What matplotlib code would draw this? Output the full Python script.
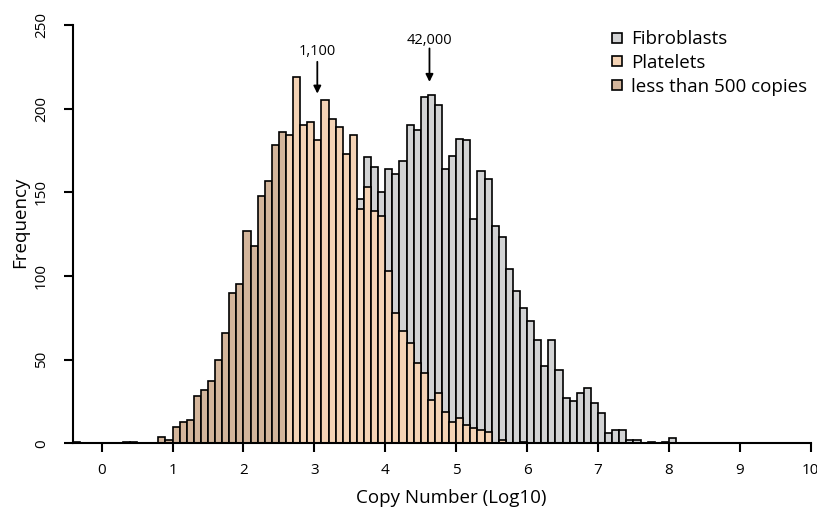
import numpy as np
import matplotlib.pyplot as plt
from matplotlib.lines import Line2D

plt.rcParams["font.family"] = ["Open Sans", "DejaVu Sans"]

# histogram bins: width 0.1, first bin starts at -0.4 (log10 copy number)
bin_start = -0.4
bin_width = 0.1

# counts per bin, from -0.4 up to 8.0
fibroblasts = [
    0, 0, 0, 0,
    0, 0, 0, 0, 0, 0, 0, 0, 0, 0,
    0, 0, 0, 0, 0, 1, 2, 3, 4, 6,
    8, 10, 14, 18, 25, 31, 40, 48, 57, 66,
    78, 86, 98, 110, 121, 135, 146, 171, 165, 150,
    164, 161, 169, 190, 187, 207, 208, 202, 164, 172,
    182, 181, 134, 163, 158, 130, 123, 104, 91, 81,
    73, 62, 46, 62, 44, 27, 25, 30, 33, 24,
    18, 6, 8, 8, 2, 2, 0, 1, 0, 1,
    3,
]
platelets = [
    1, 0, 0, 0,
    0, 0, 0, 1, 1, 0, 0, 0, 4, 2,
    10, 13, 14, 28, 32, 37, 50, 66, 90, 95,
    127, 118, 148, 157, 178, 186, 184, 219, 190, 192,
    181, 205, 194, 189, 173, 184, 140, 153, 139, 136,
    103, 78, 67, 60, 48, 42, 26, 30, 19, 13,
    15, 11, 9, 8, 7, 0, 2, 0, 0, 1,
    0, 0, 0, 0, 0, 0, 0, 0, 0, 0,
    0, 0, 0, 0, 0, 0, 0, 0, 0, 0,
    0,
]
cutoff = np.log10(500)  # bins below this are "less than 500 copies"

# arrows for the modes
annotations = [("1,100", np.log10(1100)), ("42,000", np.log10(42000))]
arrow_tips = [209, 216]
arrow_tails = [228, 236]
label_y = [234, 241]

col_fib = "#d2d3d4"
col_plt = "#f4d3b5"
col_low = "#d3b59b"

lefts = bin_start + bin_width * np.arange(len(fibroblasts))
plt_colors = [col_low if l + bin_width <= cutoff + 1e-9 else col_plt for l in lefts]

fig = plt.figure(figsize=(8.17, 5.09), dpi=100)
ax = fig.add_axes([73.3 / 817, 65.7 / 509, (810.7 - 73.3) / 817, (443.3 - 25) / 509])

ax.bar(lefts, fibroblasts, width=bin_width, align="edge", color=col_fib,
       edgecolor="black", linewidth=1.2)
ax.bar(lefts, platelets, width=bin_width, align="edge", color=plt_colors,
       edgecolor="black", linewidth=1.2)

for (txt, xv), tip, tail, ty in zip(annotations, arrow_tips, arrow_tails, label_y):
    ax.annotate("", xy=(xv, tip), xytext=(xv, tail),
                arrowprops=dict(arrowstyle="-|>", color="black", lw=1.3,
                                mutation_scale=11, shrinkA=0, shrinkB=0))
    ax.text(xv, ty, txt, ha="center", va="center", fontsize=10.5)

ax.set_xlim(-0.4, 10)
ax.set_ylim(0, 250)
ax.set_xticks(range(0, 11))
ax.set_yticks(range(0, 251, 50))
for s in ["top", "right"]:
    ax.spines[s].set_visible(False)
ax.spines["left"].set_bounds(0, 250)
ax.spines["bottom"].set_bounds(-0.4, 10)
ax.spines["left"].set_linewidth(1.5)
ax.spines["bottom"].set_linewidth(1.5)
ax.tick_params(axis="both", length=6.5, width=1.5, labelsize=11)
ax.tick_params(axis="x", pad=8)
ax.tick_params(axis="y", pad=11)
for lab in ax.get_yticklabels():
    lab.set_rotation(90)
    lab.set_va("center")

fig.text(451 / 817, 1 - 498 / 509, "Copy Number (Log10)", ha="center", va="center", fontsize=13.5)
fig.text(20 / 817, 1 - 222 / 509, "Frequency", ha="center", va="center", rotation=90, fontsize=13.5)

handles = [Line2D([], [], marker="s", linestyle="none", markersize=7,
                  markerfacecolor=c, markeredgecolor="black", markeredgewidth=1.2)
           for c in (col_fib, col_plt, col_low)]
ax.legend(handles, ["Fibroblasts", "Platelets", "less than 500 copies"],
          loc="upper left", bbox_to_anchor=(598 / 817, 1 - 21 / 509),
          bbox_transform=fig.transFigure, frameon=False, fontsize=13.5,
          handletextpad=0.25, labelspacing=0.3, borderpad=0, handlelength=1.0)

fig.savefig("out.png", dpi=100)
